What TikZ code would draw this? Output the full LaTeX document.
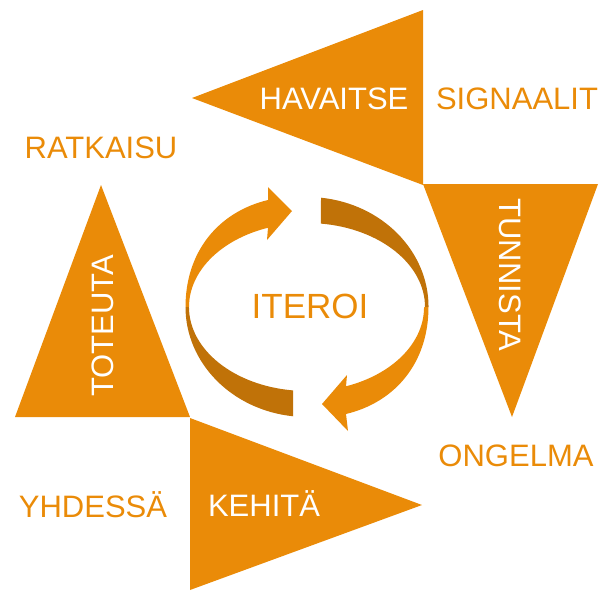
\documentclass[tikz,border=0pt]{standalone}
\usepackage{fontspec}
\setmainfont{Liberation Sans}
\definecolor{arancio}{RGB}{234,139,8}
\definecolor{arancioscuro}{RGB}{192,114,8}
\begin{document}
\begin{tikzpicture}[x=1pt, y=-1pt, tri/.style = {fill=arancio},
    testo/.style = {text=arancio, font=\fontsize{31}{37}\selectfont, anchor=base, inner sep=0pt},
    bianco/.style = {testo, text=white}]
    \useasboundingbox (0,0) rectangle (600,590);
    % Disegna i triangoli
    \fill[tri] (192,98) -- (423,10) -- (423,185) -- cycle;
    \fill[tri] (423,184) -- (598,184) -- (512,417) -- cycle;
    \fill[tri] (101,185) -- (190,417) -- (15,417) -- cycle;
    \fill[tri] (190,418) -- (422,505) -- (190,590) -- cycle;

    % Disegna le frecce centrali
    \fill[arancio] (268,200) .. controls (218,212) and (185.5,252) .. (185.5,307)
        -- (189,307) arc[start angle=180, end angle=250.7, x radius=118, y radius=84]
        -- (267,240) -- (292,211) -- (268,187) -- cycle;
    \fill[arancioscuro] (185.5,307) arc[start angle=180, end angle=96.6, x radius=121.5, y radius=110]
        -- (293,390.4) arc[start angle=96.8, end angle=180, x radius=118, y radius=84] -- cycle;
    \fill[arancioscuro] (321,197.7) arc[start angle=-83.4, end angle=0, x radius=121.5, y radius=110]
        -- (425,307) arc[start angle=0, end angle=-83.2, x radius=118, y radius=84] -- cycle;
    \fill[arancio] (428.5,307) .. controls (428.5,362) and (396,402) .. (346,414)
        -- (348,431) -- (322,404) -- (347,375)
        -- (346,386.3) arc[start angle=70.2, end angle=0, x radius=118, y radius=84] -- cycle;

    % Scrivi le parole
    \node[bianco] (havaitse) at (334,109) {HAVAITSE};
    \node[testo] (signaalit) at (517,109) {SIGNAALIT};
    \node[testo] (ratkaisu) at (101,158) {RATKAISU};
    \node[bianco, rotate=-90] (tunnista) at (499,275) {TUNNISTA};
    \node[bianco, rotate=90] (toteuta) at (113,326) {TOTEUTA};
    \node[testo] (ongelma) at (516,466) {ONGELMA};
    \node[testo] (yhdessa) at (93,517) {YHDESSÄ};
    \node[bianco] (kehita) at (264,516) {KEHITÄ};
    \node[testo, font=\fontsize{35}{42}\selectfont] (iteroi) at (310,318) {ITEROI};
\end{tikzpicture}
\end{document}
